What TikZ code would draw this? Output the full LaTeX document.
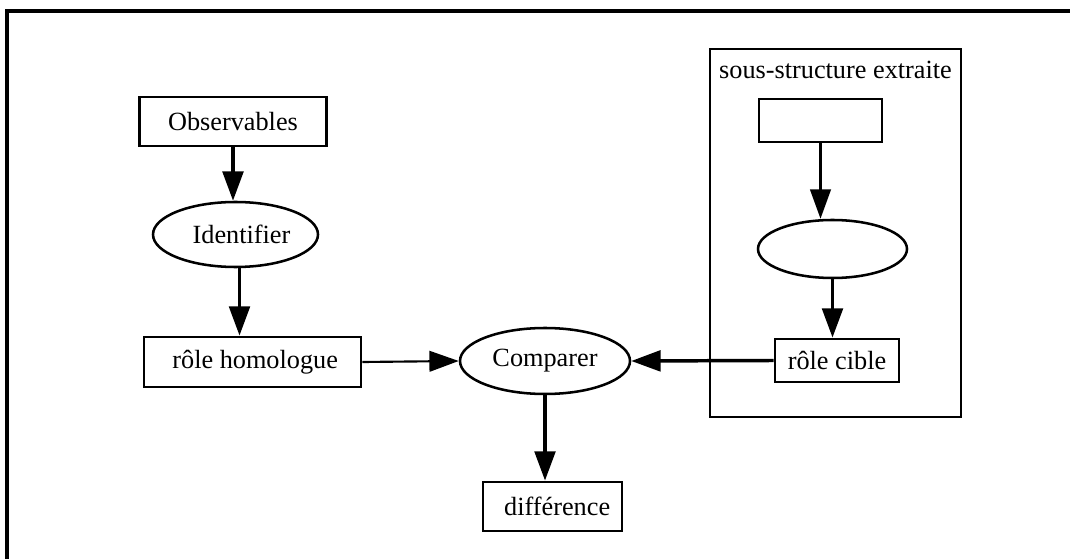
\documentclass[tikz,border=0pt]{standalone}
\usepackage{fontspec}
\setmainfont{Liberation Serif}
\usetikzlibrary{arrows.meta,shapes.geometric}
\begin{document}
\begin{tikzpicture}[x=0.75pt,y=-0.75pt,
  every node/.style={font=\fontsize{19.7}{23}\selectfont, inner sep=0pt},
  rbox/.style={draw, line width=2.1pt, rectangle},
  oval/.style={draw, line width=1.9pt, ellipse},
  thickedge/.style={line width=2.6pt, -{Triangle[length=22pt,width=15.5pt]}},
  thinedge/.style={line width=1.6pt, -{Triangle[length=22pt,width=15.5pt]}},
  frameline/.style={line width=2.4pt}
]
\useasboundingbox (0,0) rectangle (1070,559);
% outer frame (top and left only)
\coordinate (ftl) at (7,11);
\coordinate (ftr) at (1072,11);
\coordinate (fbl) at (7,561);
\draw[frameline] (ftr) -- (ftl) -- (fbl);

% cluster
\node[rbox, minimum width=188.25pt, minimum height=276pt] (cluster) at (835.5,233) {};
\node (clabel) at (835.5,70) {sous-structure extraite};

% nodes
\node[rbox, minimum width=140.25pt, minimum height=36.75pt] (obs) at (233,121.5) {Observables};
\node[oval, minimum width=123.75pt, minimum height=48.75pt] (ident) at (235.5,234.5) {\hspace*{9pt}Identifier};
\node[rbox, minimum width=162.75pt, minimum height=37.5pt] (rh) at (252.5,362) {\hspace*{4pt}rôle homologue};
\node[oval, minimum width=127.5pt, minimum height=49.5pt] (cmp) at (545,361) {Comparer};
\node[rbox, minimum width=104.25pt, minimum height=36.75pt] (diff) at (552.5,506.5) {\hspace*{7pt}différence};
\node[rbox, minimum width=92.25pt, minimum height=32.25pt] (eb) at (820.5,120.5) {};
\node[oval, minimum width=111.75pt, minimum height=43.5pt] (ee) at (832.5,249) {};
\node[rbox, minimum width=93pt, minimum height=32.25pt] (rc) at (837,360.5) {rôle cible};

% edges
\draw[thickedge] (obs.south) -- (obs.south |- ident.north);
\draw[thickedge] ([xshift=3pt]ident.south) -- ([xshift=3pt]ident.south |- rh.north);
\draw[thinedge] (rh.east) -- (cmp.west);
\draw[thickedge] (rc.west) -- (cmp.east);
\draw[thickedge] (cmp.south) -- (cmp.south |- diff.north);
\draw[thinedge] (eb.south) -- (eb.south |- ee.north);
\draw[thickedge] (ee.south) -- (ee.south |- rc.north);
\end{tikzpicture}
\end{document}
